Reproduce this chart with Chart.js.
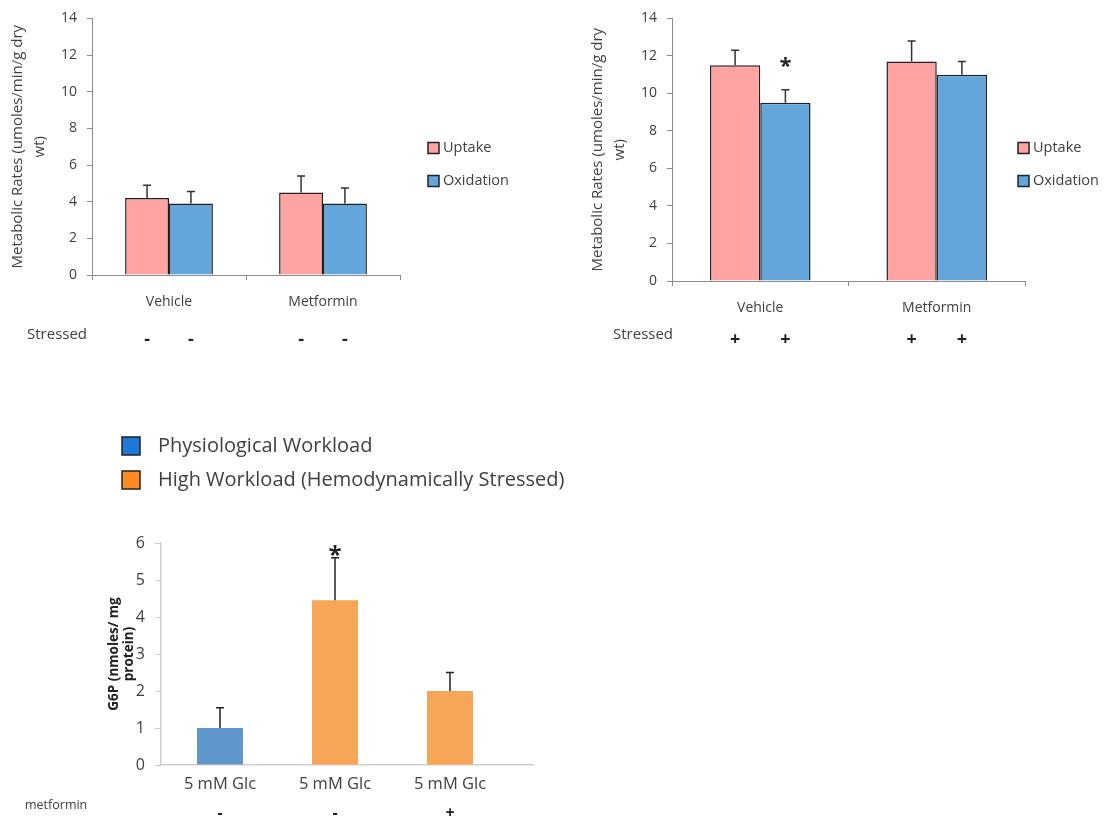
<!DOCTYPE html>
<html>
<head>
<meta charset="utf-8">
<script src="https://cdn.jsdelivr.net/npm/chart.js@4.4.1/dist/chart.umd.min.js"></script>
<style>
  body { margin: 0; background: #fff; width: 1107px; height: 821px; position: relative; overflow: hidden; }
  canvas { position: absolute; }
</style>
</head>
<body>
<canvas id="rest" width="560" height="360" style="left:0;top:0"></canvas>
<canvas id="stress" width="527" height="360" style="left:580px;top:0"></canvas>
<canvas id="g6p" width="600" height="401" style="left:0;top:420px"></canvas>
<script>
// --- data ---
const groups = ['Vehicle', 'Metformin'];
const seriesNames = ['Uptake', 'Oxidation'];

const restUptake = [4.2, 4.5];
const restUptakeErr = [0.7, 0.9];
const restOxidation = [3.9, 3.9];
const restOxidationErr = [0.65, 0.85];
const restMarks = ['-', '-'];

const stressUptake = [11.5, 11.7];
const stressUptakeErr = [0.8, 1.1];
const stressOxidation = [9.5, 11.0];
const stressOxidationErr = [0.7, 0.7];
const stressMarks = ['+', '+'];

const g6pLabels = ['5 mM Glc', '5 mM Glc', '5 mM Glc'];
const g6pValues = [1.0, 4.45, 2.0];
const g6pErr = [0.55, 1.15, 0.5];
const metforminMarks = ['-', '-', '+'];
const workloadNames = ['Physiological Workload', 'High Workload (Hemodynamically Stressed)'];

const FONT = '"Open Sans", sans-serif';
const TEXT = '#404040';
const PINK = '#ffa3a3';
const BLUE = '#63a6dc';

// draws error bars, stars, the +/- row and the hand-made legends
const extras = {
    id: 'extras',
    afterDatasetsDraw(chart, args, opts) {
        const ctx = chart.ctx;
        const y = chart.scales.y;
        const val = (ds, j) => (typeof ds.data[j] === 'object' ? ds.data[j].y : ds.data[j]);
        ctx.save();
        chart.data.datasets.forEach((ds, i) => {
            const meta = chart.getDatasetMeta(i);
            meta.data.forEach((bar, j) => {
                const top = y.getPixelForValue(val(ds, j) + opts.errors[i][j]);
                ctx.strokeStyle = opts.errorColor;
                ctx.lineWidth = 1.5;
                ctx.beginPath();
                ctx.moveTo(bar.x, bar.y);
                ctx.lineTo(bar.x, top);
                ctx.moveTo(bar.x - 4, top);
                ctx.lineTo(bar.x + 4, top);
                ctx.stroke();
            });
        });

        (opts.stars || []).forEach(s => {
            const bar = chart.getDatasetMeta(s.ds).data[s.i];
            const ds = chart.data.datasets[s.ds];
            const top = y.getPixelForValue(val(ds, s.i) + opts.errors[s.ds][s.i]);
            ctx.fillStyle = '#222';
            ctx.font = 'bold ' + s.size + 'px ' + FONT;
            ctx.textAlign = 'center';
            ctx.textBaseline = 'alphabetic';
            ctx.fillText('*', bar.x, top + s.dy);
        });

        const row = opts.row;
        if (row) {
            ctx.fillStyle = TEXT;
            ctx.font = row.labelFont;
            ctx.textAlign = 'left';
            ctx.textBaseline = 'middle';
            ctx.fillText(row.label, row.labelX, row.labelY);
            ctx.font = row.markFont;
            ctx.textAlign = 'center';
            ctx.fillStyle = '#222';
            chart.data.datasets.forEach((ds, i) => {
                chart.getDatasetMeta(i).data.forEach((bar, j) => {
                    ctx.fillText(row.marks[i][j], bar.x, row.markY);
                });
            });
        }

        const lg = opts.legend;
        if (lg) {
            lg.items.forEach((it, k) => {
                const yy = lg.y + k * lg.gap;
                ctx.fillStyle = it.color;
                ctx.fillRect(lg.x, yy - lg.box / 2, lg.box, lg.box);
                ctx.strokeStyle = '#222';
                ctx.lineWidth = lg.border;
                ctx.strokeRect(lg.x, yy - lg.box / 2, lg.box, lg.box);
                ctx.fillStyle = TEXT;
                ctx.font = lg.font;
                ctx.textAlign = 'left';
                ctx.textBaseline = 'middle';
                ctx.fillText(it.text, lg.x + lg.box + lg.textGap, yy);
            });
        }
        ctx.restore();
    }
};

function metabolicChart(id, uptake, oxidation, errs, marks, opt) {
    return new Chart(document.getElementById(id), {
        type: 'bar',
        data: {
            labels: groups,
            datasets: [
                { label: seriesNames[0], data: uptake, backgroundColor: PINK, borderColor: '#222', borderWidth: 1.5 },
                { label: seriesNames[1], data: oxidation, backgroundColor: BLUE, borderColor: '#222', borderWidth: 1.5 }
            ]
        },
        plugins: [extras],
        options: {
            responsive: false,
            animation: false,
            layout: { padding: { top: opt.top, right: opt.right, left: 0, bottom: 0 } },
            datasets: { bar: { categoryPercentage: 0.57, barPercentage: 1.0 } },
            scales: {
                x: {
                    afterFit: s => { s.height = opt.xHeight; },
                    grid: { offset: true, drawOnChartArea: false, drawTicks: true, tickLength: 5, color: '#8c8c8c' },
                    border: { color: '#8c8c8c' },
                    ticks: { color: TEXT, font: { family: FONT, size: 14 }, padding: opt.xPad }
                },
                y: {
                    min: 0, max: 14,
                    afterFit: s => { s.width = 92; },
                    grid: { drawOnChartArea: false, drawTicks: true, tickLength: 5, color: '#8c8c8c' },
                    border: { color: '#8c8c8c' },
                    ticks: { stepSize: 2, color: TEXT, font: { family: FONT, size: 14 }, padding: 10 },
                    title: {
                        display: true,
                        text: ['Metabolic Rates (umoles/min/g dry', 'wt)'],
                        color: TEXT,
                        font: { family: FONT, size: 15, lineHeight: '22px' },
                        padding: { top: 7, bottom: 0 }
                    }
                }
            },
            plugins: {
                legend: { display: false },
                tooltip: { enabled: false },
                extras: {
                    errors: errs,
                    errorColor: '#333',
                    stars: opt.stars,
                    row: {
                        label: 'Stressed', labelX: opt.rowX, labelY: 335,
                        labelFont: '15px ' + FONT,
                        marks: [marks, marks], markY: 340,
                        markFont: 'bold 18px ' + FONT
                    },
                    legend: {
                        x: opt.legendX, y: 148, gap: 33, box: 11, border: 1.5, textGap: 4,
                        font: '14.5px ' + FONT,
                        items: [
                            { text: seriesNames[0], color: PINK },
                            { text: seriesNames[1], color: BLUE }
                        ]
                    }
                }
            }
        }
    });
}

metabolicChart('rest', restUptake, restOxidation, [restUptakeErr, restOxidationErr], restMarks,
    { top: 14, right: 160, xHeight: 85, xPad: 14, rowX: 27, legendX: 428, stars: [] });

metabolicChart('stress', stressUptake, stressOxidation, [stressUptakeErr, stressOxidationErr], stressMarks,
    { top: 11, right: 82, xHeight: 79, xPad: 14, rowX: 33, legendX: 438, stars: [{ ds: 1, i: 0, dy: -17, size: 22 }] });

// G6P panel: linear x so the three bars keep Excel's spacing inside a longer axis
new Chart(document.getElementById('g6p'), {
    type: 'bar',
    data: {
        datasets: [{
            label: 'G6P',
            data: g6pValues.map((v, i) => ({ x: i, y: v })),
            backgroundColor: ['#5f96cc', '#f6a656', '#f6a656'],
            borderWidth: 0
        }]
    },
    plugins: [extras],
    options: {
        responsive: false,
        animation: false,
        layout: { padding: { top: 123, right: 67, left: 100, bottom: 0 } },
        datasets: { bar: { categoryPercentage: 0.4, barPercentage: 1.0 } },
        scales: {
            x: {
                type: 'linear',
                offset: false,
                min: -0.513, max: 2.722,
                afterFit: s => { s.height = 56; },
                afterBuildTicks: s => { s.ticks = g6pLabels.map((_, i) => ({ value: i })); },
                grid: { display: false },
                border: { color: '#d0d0d0', width: 1.5 },
                ticks: {
                    color: TEXT, font: { family: FONT, size: 16.5 }, padding: 1,
                    autoSkip: false, maxRotation: 0,
                    callback: v => g6pLabels[v]
                }
            },
            y: {
                min: 0, max: 6,
                afterFit: s => { s.width = 61; },
                grid: { drawOnChartArea: false, drawTicks: true, tickLength: 6, color: '#d0d0d0' },
                border: { color: '#d0d0d0', width: 1.5 },
                ticks: { stepSize: 1, color: TEXT, font: { family: FONT, size: 16 }, padding: 10 },
                title: {
                    display: true,
                    text: ['G6P (nmoles/ mg', 'protein)'],
                    color: '#222',
                    font: { family: FONT, size: 13.5, weight: 'bold', lineHeight: '15px' },
                    padding: { top: 7, bottom: 0 }
                }
            }
        },
        plugins: {
            legend: { display: false },
            tooltip: { enabled: false },
            extras: {
                errors: [g6pErr],
                errorColor: '#222',
                stars: [{ ds: 0, i: 1, dy: 5, size: 24 }],
                row: {
                    label: 'metformin', labelX: 25, labelY: 385,
                    labelFont: '12.5px ' + FONT,
                    marks: [metforminMarks], markY: 393,
                    markFont: 'bold 16px ' + FONT
                },
                legend: {
                    x: 122, y: 26, gap: 34, box: 18, border: 1.5, textGap: 18,
                    font: '20px ' + FONT,
                    items: [
                        { text: workloadNames[0], color: '#1f78d8' },
                        { text: workloadNames[1], color: '#ff8b20' }
                    ]
                }
            }
        }
    }
});
</script>
</body>
</html>
